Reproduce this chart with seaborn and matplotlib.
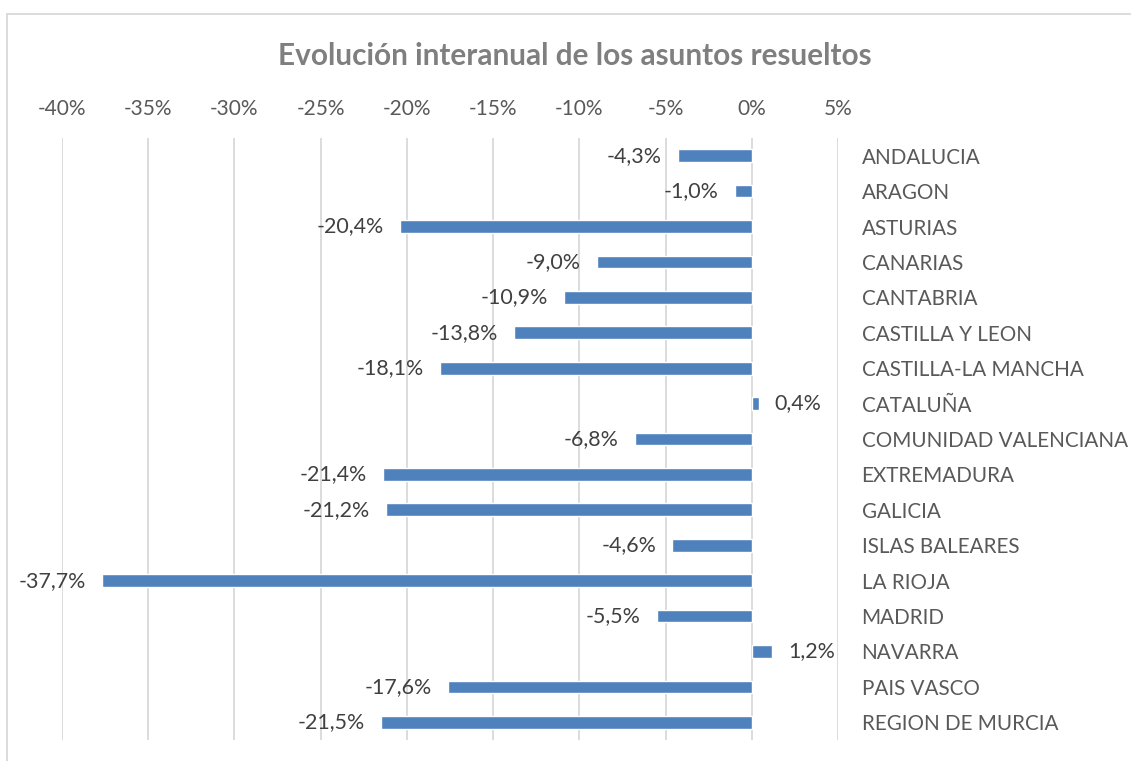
import matplotlib
matplotlib.use('Agg')
import matplotlib.pyplot as plt
import seaborn as sns
import pandas as pd
from matplotlib.lines import Line2D

comunidades = ['ANDALUCIA', 'ARAGON', 'ASTURIAS', 'CANARIAS', 'CANTABRIA',
               'CASTILLA Y LEON', 'CASTILLA-LA MANCHA', 'CATALUÑA',
               'COMUNIDAD VALENCIANA', 'EXTREMADURA', 'GALICIA',
               'ISLAS BALEARES', 'LA RIOJA', 'MADRID', 'NAVARRA',
               'PAIS VASCO', 'REGION DE MURCIA']
evolucion = [-4.3, -1.0, -20.4, -9.0, -10.9, -13.8, -18.1, 0.4, -6.8,
             -21.4, -21.2, -4.6, -37.7, -5.5, 1.2, -17.6, -21.5]
ticks = [-40, -35, -30, -25, -20, -15, -10, -5, 0, 5]

df = pd.DataFrame({'comunidad': comunidades, 'evolucion': evolucion})

sns.set_style('white')
plt.rcParams['font.family'] = ['Lato', 'DejaVu Sans']

W, H = 1131, 761
fig = plt.figure(figsize=(W / 100, H / 100), dpi=100)
ax = fig.add_axes([62 / W, 1 - 740 / H, (838 - 62) / W, (740 - 138) / H])

sns.barplot(data=df, y='comunidad', x='evolucion', orient='h',
            color='#4F81BD', saturation=1, width=0.36, ax=ax)

ax.set_xlim(-40, 5)
ax.set_ylim(len(comunidades) - 0.5, -0.5)
ax.set_xticks(ticks)
ax.set_xticklabels([f'{t}%' for t in ticks])
ax.xaxis.tick_top()
ax.yaxis.tick_right()
ax.tick_params(axis='x', length=0, pad=14, labelsize=15, labelcolor='#595959')
ax.tick_params(axis='y', length=0, pad=17, labelsize=14.9, labelcolor='#595959')
ax.set_xlabel('')
ax.set_ylabel('')
for t in ax.get_yticklabels():
    t.set_horizontalalignment('left')

ax.grid(axis='x', color='#d9d9d9', linewidth=1.3)
ax.grid(axis='y', visible=False)
ax.set_axisbelow(True)
for s in ax.spines.values():
    s.set_visible(False)

etiquetas = [f'{v:.1f}%'.replace('.', ',') for v in evolucion]
ax.bar_label(ax.containers[0], labels=etiquetas, padding=11.5,
             fontsize=15.4, color='#404040')

fig.suptitle('Evolución interanual de los asuntos resueltos', x=0.508,
             y=1 - 56 / H, va='center', fontsize=21.4, fontweight='bold',
             color='#7f7f7f')

fig.add_artist(Line2D([7 / W, 1], [1 - 14 / H, 1 - 14 / H],
                      transform=fig.transFigure, color='#d9d9d9', linewidth=1.3))
fig.add_artist(Line2D([7 / W, 7 / W], [0, 1 - 14 / H],
                      transform=fig.transFigure, color='#d9d9d9', linewidth=1.3))

fig.savefig('out.png', dpi=100)
